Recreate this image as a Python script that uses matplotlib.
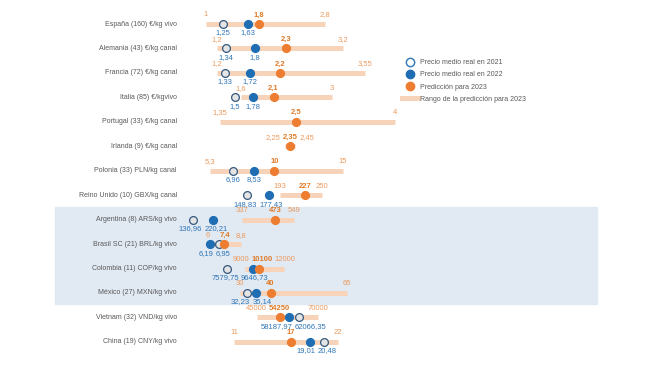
import matplotlib
matplotlib.use("Agg")
import matplotlib.pyplot as plt
from matplotlib.lines import Line2D
from matplotlib.patches import Rectangle

plt.rcParams['font.family'] = ['Liberation Sans', 'DejaVu Sans']

# data
rows = ["España (160) €/kg vivo", "Alemania (43) €/kg canal", "Francia (72) €/kg canal",
        "Italia (85) €/kgvivo", "Portugal (33) €/kg canal", "Irlanda (9) €/kg canal",
        "Polonia (33) PLN/kg canal", "Reino Unido (10) GBX/kg canal", "Argentina (8) ARS/kg vivo",
        "Brasil SC (21) BRL/kg vivo", "Colombia (11) COP/kg vivo", "México (27) MXN/kg vivo",
        "Vietnam (32) VND/kg vivo", "China (19) CNY/kg vivo"]
price_2021 = [1.25, 1.34, 1.33, 1.5, None, None, 6.96, 148.83, 136.96, 6.95, 7579.75, 32.23, 62066.35, 20.48]
price_2022 = [1.63, 1.8, 1.72, 1.78, None, None, 8.53, 177.43, 220.21, 6.19, 9646.73, 35.14, 58187.97, 19.01]
pred_2023 = [1.8, 2.3, 2.2, 2.1, 2.5, 2.35, 10, 227, 473, 7.4, 10100, 40, 54250, 17]
pred_min = [1, 1.2, 1.2, 1.6, 1.35, 2.25, 5.3, 193, 337, 6, 9000, 30, 45000, 11]
pred_max = [2.8, 3.2, 3.55, 3, 4, 2.45, 15, 250, 549, 8.8, 12000, 65, 70000, 22]

# layout: pixel span of each row's prediction range (each row has its own scale)
bar_px = [(206, 325), (217, 343), (217, 365), (241, 332), (220, 395), (285, 295), (210, 343),
          (280, 322), (242, 294), (208, 241), (245, 284), (240, 347), (257, 318), (234, 338)]
W, H = 650, 366
row_top, row_step, row_h = 24, 24.45, 24

c_bar = '#f6d3b9'
c_blue = '#1f6db3'
c_orange = '#ed7d31'
c_edge = '#35597f'
c_text = '#595959'
c_lab_or = '#eb9a5e'
c_lab_blue = '#2e75b6'


def fmt(v):
    s = f"{v:.2f}".rstrip('0').rstrip('.')
    return s.replace('.', ',')


fig = plt.figure(figsize=(6.5, 3.66), dpi=100)
fig.patches.append(Rectangle((55 / W, 1 - 304 / H), (597 - 55) / W, (304 - 207) / H,
                             transform=fig.transFigure, color='#e1e9f3', zorder=-1))

groups = []
for i, name in enumerate(rows):
    yc = row_top + i * row_step
    ax = fig.add_axes([0, 1 - (yc + row_h / 2) / H, 1, row_h / H])
    ax.set_axis_off()
    ax.patch.set_alpha(0)
    lo, hi = pred_min[i], pred_max[i]
    p0, p1 = bar_px[i]
    k = (p1 - p0) / (hi - lo)
    ax.set_xlim(lo - p0 / k, lo + (W - p0) / k)
    ax.set_ylim(-1, 1)

    ax.text(177 / W, 0.5, name, transform=ax.transAxes, ha='right', va='center',
            fontsize=5, color=c_text)
    ax.plot([lo, hi], [0, 0], color=c_bar, lw=3.6, solid_capstyle='butt', zorder=1)
    if price_2021[i] is not None:
        ax.plot(price_2021[i], 0, 'o', ms=5.6, mfc='#e4e4e4', mec=c_edge, mew=0.9, zorder=3)
    if price_2022[i] is not None:
        ax.plot(price_2022[i], 0, 'o', ms=5.6, color=c_blue, zorder=4)
    ax.plot(pred_2023[i], 0, 'o', ms=5.6, color=c_orange, zorder=5)

    upper = []
    for v, bold in [(lo, False), (pred_2023[i], True), (hi, False)]:
        t = ax.annotate(fmt(v), xy=(v, 0), xytext=(0, 9), textcoords='offset pixels',
                        ha='center', va='center', fontsize=5.5,
                        color='#e07b28' if bold else c_lab_or,
                        fontweight='bold' if bold else 'normal')
        upper.append(t)
    lower = []
    for v in (price_2021[i], price_2022[i]):
        if v is None:
            continue
        t = ax.annotate(fmt(v), xy=(v, 0), xytext=(0, -9), textcoords='offset pixels',
                        ha='center', va='center', fontsize=5.5, color=c_lab_blue)
        lower.append(t)
    groups += [upper, lower]

# legend
handles = [
    Line2D([], [], marker='o', ls='none', ms=6, mfc='white', mec=c_lab_blue, mew=1,
           label='Precio medio real en 2021'),
    Line2D([], [], marker='o', ls='none', ms=6, color=c_blue, label='Precio medio real en 2022'),
    Line2D([], [], marker='o', ls='none', ms=6, color=c_orange, label='Predicción para 2023'),
    Line2D([], [], color=c_bar, lw=3.6, label='Rango de la predicción para 2023'),
]
fig.legend(handles=handles, loc='upper left', bbox_to_anchor=(396 / W, 1 - 53 / H),
           frameon=False, fontsize=5, labelspacing=0.75, handlelength=2.2,
           handletextpad=0.35, labelcolor=c_text)

# push apart value labels that collide
fig.canvas.draw()
r = fig.canvas.get_renderer()
for g in groups:
    for _ in range(6):
        g.sort(key=lambda t: t.get_window_extent(r).x0)
        moved = False
        for a, b in zip(g, g[1:]):
            ba, bb = a.get_window_extent(r), b.get_window_extent(r)
            ov = ba.x1 + 2 - bb.x0
            if ov > 0:
                a.xyann = (a.xyann[0] - ov / 2, a.xyann[1])
                b.xyann = (b.xyann[0] + ov / 2, b.xyann[1])
                moved = True
        if not moved:
            break

fig.savefig('out.png', dpi=100)
